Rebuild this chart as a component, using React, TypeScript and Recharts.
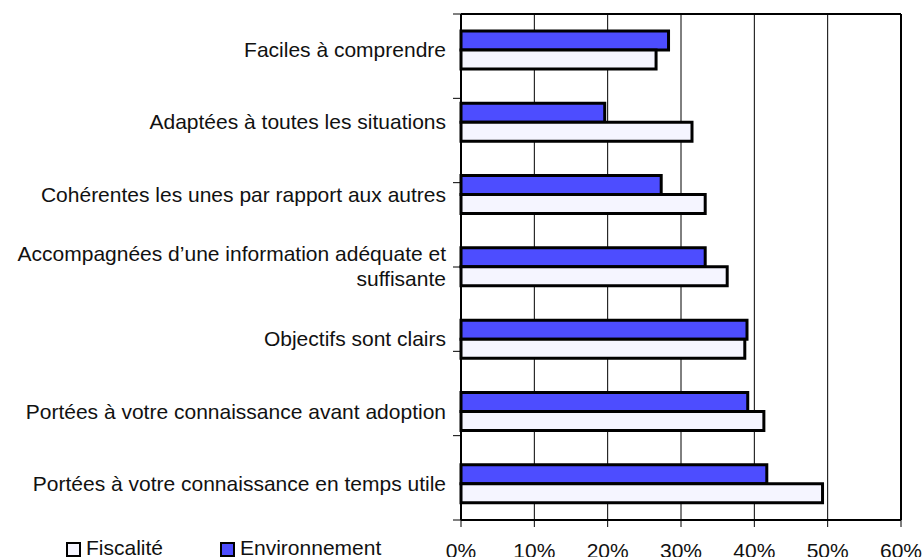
import React from 'react';
import { BarChart, Bar, XAxis, YAxis, CartesianGrid, Legend } from 'recharts';

const categories = [
  'Faciles à comprendre',
  'Adaptées à toutes les situations',
  'Cohérentes les unes par rapport aux autres',
  'Accompagnées d’une information adéquate et\nsuffisante',
  'Objectifs sont clairs',
  'Portées à votre connaissance avant adoption',
  'Portées à votre connaissance en temps utile',
];
const fiscalite = [26.6, 31.5, 33.3, 36.3, 38.7, 41.3, 49.3];
const environnement = [28.3, 19.6, 27.3, 33.3, 39.0, 39.1, 41.7];
const xTicks = [0, 10, 20, 30, 40, 50, 60];
const boundaryTicks = [0, 1, 2, 3, 4, 5, 6, 7];

const data = categories.map((name, i) => ({
  name,
  fiscalite: fiscalite[i],
  environnement: environnement[i],
}));

const FONT = '"Liberation Sans", Arial, Helvetica, sans-serif';
const TEXT = '#111';
const BLUE = '#4d4dff';
const PALE = '#f5f5ff';

const CatTick = (props: any) => {
  const { x, y, payload } = props;
  const lines = String(payload.value).split('\n');
  const lh = 25;
  return (
    <text x={x} y={y} textAnchor="end" fontSize={21} fill={TEXT} fontFamily={FONT}>
      {lines.map((l, i) => (
        <tspan key={i} x={x} dy={i === 0 ? 0.33 * 21 - ((lines.length - 1) * lh) / 2 : lh}>
          {l}
        </tspan>
      ))}
    </text>
  );
};

const LegendContent = () => {
  const items = [
    { label: 'Fiscalité', color: PALE, left: 66 },
    { label: 'Environnement', color: BLUE, left: 220 },
  ];
  return (
    <div style={{ position: 'relative', width: 924, height: 557 }}>
      {items.map((it) => (
        <div key={it.label} style={{ position: 'absolute', left: it.left, top: 536, display: 'flex', alignItems: 'center', fontFamily: FONT, fontSize: 21, color: TEXT, whiteSpace: 'nowrap', lineHeight: '24px' }}>
          <span style={{ display: 'inline-block', width: 11, height: 11, border: '2.5px solid #000', background: it.color, marginRight: 5, marginTop: 3 }} />
          <span>{it.label}</span>
        </div>
      ))}
    </div>
  );
};

export default function App() {
  return (
    <div style={{ position: 'absolute', left: 0, top: 0, width: 924, height: 557, background: '#fff' }}>
      <BarChart
        width={924}
        height={557}
        data={data}
        layout="vertical"
        margin={{ top: 0, right: 0, bottom: 0, left: 0 }}
        barGap={0}
        barSize={19}
      >
        <CartesianGrid xAxisId="x" yAxisId="cat" horizontal={false} vertical stroke="#000" strokeWidth={1} />
        <XAxis
          xAxisId="x"
          type="number"
          orientation="bottom"
          domain={[0, 60]}
          ticks={xTicks}
          interval={0}
          height={37}
          tickFormatter={(v: number) => `${v}%`}
          tick={{ fontSize: 21, fill: TEXT, fontFamily: FONT }}
          tickSize={7}
          tickMargin={16}
          axisLine={{ stroke: '#000', strokeWidth: 2 }}
          tickLine={{ stroke: '#000', strokeWidth: 1 }}
        />
        <XAxis
          xAxisId="top"
          type="number"
          orientation="top"
          domain={[0, 60]}
          height={14}
          tick={false}
          tickLine={false}
          axisLine={{ stroke: '#000', strokeWidth: 2 }}
        />
        <YAxis
          yAxisId="b"
          type="number"
          orientation="left"
          domain={[0, 7]}
          reversed
          ticks={boundaryTicks}
          interval={0}
          width={1}
          tickSize={8}
          tickFormatter={() => ''}
          axisLine={{ stroke: '#000', strokeWidth: 2 }}
          tickLine={{ stroke: '#000', strokeWidth: 1 }}
        />
        <YAxis
          yAxisId="cat"
          type="category"
          dataKey="name"
          orientation="left"
          width={460}
          interval={0}
          tickSize={7}
          tickMargin={7}
          tickLine={false}
          axisLine={false}
          tick={<CatTick />}
        />
        <YAxis
          yAxisId="r"
          type="number"
          orientation="right"
          domain={[0, 7]}
          width={23}
          tick={false}
          tickLine={false}
          axisLine={{ stroke: '#000', strokeWidth: 2 }}
        />
        <Legend layout="horizontal" verticalAlign="middle" align="center" wrapperStyle={{ left: 0, top: 0, width: 924, height: 557, pointerEvents: 'none' }} content={<LegendContent />} />
        <Bar xAxisId="x" yAxisId="cat" dataKey="environnement" name="Environnement" fill={BLUE} stroke="#000" strokeWidth={3} isAnimationActive={false} />
        <Bar xAxisId="x" yAxisId="cat" dataKey="fiscalite" name="Fiscalité" fill={PALE} stroke="#000" strokeWidth={3} isAnimationActive={false} />
      </BarChart>
    </div>
  );
}
